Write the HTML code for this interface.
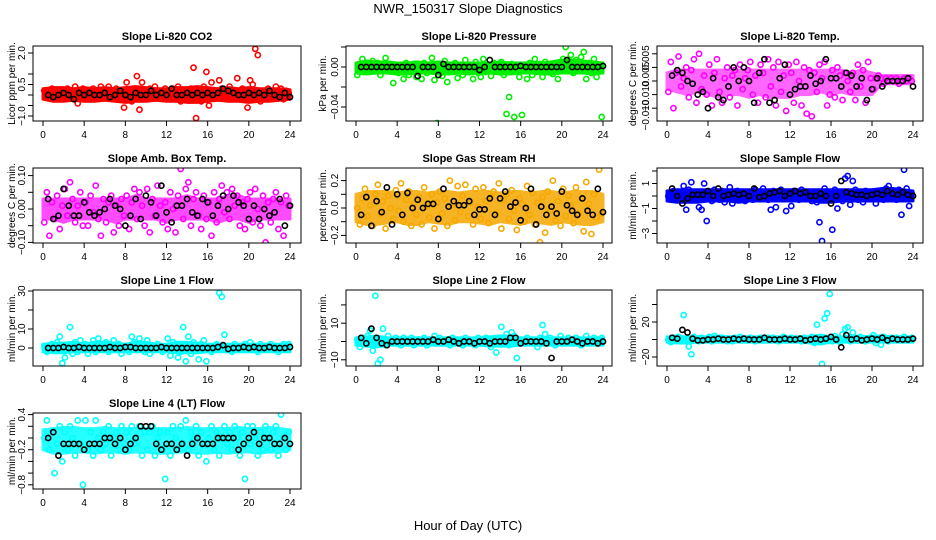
<!DOCTYPE html>
<html><head><meta charset="utf-8"><style>
body{margin:0;background:#fff}
svg{display:block;font-family:"Liberation Sans",Arial,sans-serif}
</style></head><body>
<svg id="chart" width="936" height="540" viewBox="0 0 936 540">
<text x="468" y="13" text-anchor="middle" font-size="13">NWR_150317  Slope Diagnostics</text>
<text x="468" y="530" text-anchor="middle" font-size="13">Hour of Day (UTC)</text>
</svg>
<script>
const hourTicks=[0,4,8,12,16,20,24];
const titles=["Slope Li-820 CO2","Slope Li-820 Pressure","Slope Li-820 Temp.","Slope Amb. Box Temp.","Slope Gas Stream RH","Slope Sample Flow","Slope Line 1 Flow","Slope Line 2 Flow","Slope Line 3 Flow","Slope Line 4 (LT) Flow"];
const yTitles=["Licor ppm per min.","kPa per min.","degrees C per min.","degrees C per min.","percent per min.","ml/min per min.","ml/min per min.","ml/min per min.","ml/min per min.","ml/min per min."];
const yTickVals=[[2,1,0.5,0,-0.5,-1],[0.02,0,-0.02,-0.04],[0.01,0.005,0,-0.005,-0.01],[0.1,0.05,0,-0.05,-0.1],[0.2,0.1,0,-0.1,-0.2],[2,1,0,-1,-2,-3],[30,20,10,0],[20,10,0,-10],[40,20,0,-20],[0.4,0.2,0,-0.2,-0.4,-0.6,-0.8]];
const yLabelVals=[[2,0.5,-1],[0,-0.04],[0.0085,0.0025,-0.0055,-0.0125],[0.1,0,-0.1],[0.2,0,-0.2],[1,-1,-3],[30,10,0],[10,-10],[20,-20],[0.4,-0.2,-0.8]];
const yLabelText=[["2.0","0.5","\u22121.0"],["0.00","\u22120.04"],["0.005","0.005","\u22120.010","\u22120.010"],["0.10","0.00","\u22120.10"],["0.2","0.0","\u22120.2"],["1","\u22121","\u22123"],["30","10","0"],["10","\u221210"],["20","\u221220"],["0.4","\u22120.2","\u22120.8"]];
// dense-band envelope of the colored series, hourly (0..24)
const bandLo=[
[-0.2,-0.3,-0.3,-0.25,-0.3,-0.3,-0.25,-0.3,-0.35,-0.3,-0.3,-0.25,-0.3,-0.3,-0.35,-0.35,-0.3,-0.25,-0.3,-0.3,-0.35,-0.3,-0.3,-0.25,-0.2],
[-0.006,-0.007,-0.006,-0.006,-0.007,-0.007,-0.006,-0.006,-0.007,-0.007,-0.006,-0.007,-0.006,-0.006,-0.007,-0.007,-0.006,-0.006,-0.007,-0.007,-0.006,-0.006,-0.006,-0.007,-0.006],
[-0.003,-0.004,-0.005,-0.004,-0.005,-0.006,-0.005,-0.005,-0.006,-0.005,-0.006,-0.006,-0.006,-0.005,-0.005,-0.004,-0.005,-0.004,-0.005,-0.005,-0.005,-0.001,-0.001,-0.001,-0.001],
[-0.03,-0.03,-0.04,-0.03,-0.03,-0.03,-0.03,-0.04,-0.03,-0.03,-0.03,-0.03,-0.04,-0.03,-0.03,-0.03,-0.03,-0.04,-0.03,-0.03,-0.04,-0.03,-0.03,-0.03,-0.03],
[-0.1,-0.12,-0.12,-0.11,-0.1,-0.12,-0.12,-0.1,-0.11,-0.12,-0.1,-0.1,-0.11,-0.12,-0.1,-0.11,-0.12,-0.1,-0.11,-0.12,-0.1,-0.11,-0.12,-0.12,-0.1],
[-0.4,-0.5,-0.5,-0.5,-0.4,-0.4,-0.4,-0.5,-0.4,-0.4,-0.4,-0.4,-0.4,-0.4,-0.4,-0.5,-0.5,-0.4,-0.4,-0.4,-0.4,-0.4,-0.4,-0.4,-0.4],
[-2,-2.5,-2.5,-2,-2,-2,-2,-2,-2,-2,-2,-2,-2,-2.5,-2.5,-2.5,-2,-2,-2,-2,-2,-2,-2,-2,-2],
[-2,-2.5,-3,-2,-2,-2,-2,-2,-2,-2,-2,-2,-2,-2.5,-2.5,-2.5,-2,-2,-2,-2,-2,-2,-2,-2,-2],
[-3,-4,-4,-3,-3,-3,-3,-3,-3,-3,-3,-3,-3,-3,-4,-5,-3,-3,-3,-3,-3,-3,-3,-3,-3],
[-0.2,-0.26,-0.26,-0.24,-0.24,-0.26,-0.24,-0.24,-0.26,-0.24,-0.24,-0.26,-0.26,-0.24,-0.24,-0.26,-0.26,-0.24,-0.26,-0.24,-0.24,-0.26,-0.24,-0.24,-0.2]
];
const bandHi=[
[0.3,0.35,0.35,0.3,0.35,0.3,0.35,0.3,0.35,0.4,0.35,0.3,0.3,0.35,0.35,0.4,0.35,0.3,0.35,0.3,0.35,0.3,0.3,0.3,0.25],
[0.004,0.006,0.005,0.005,0.004,0.004,0.005,0.004,0.005,0.004,0.004,0.004,0.004,0.004,0.005,0.004,0.004,0.004,0.004,0.005,0.007,0.007,0.006,0.005,0.004],
[0.003,0.004,0.004,0.004,0.004,0.004,0.004,0.004,0.004,0.004,0.004,0.004,0.004,0.004,0.004,0.004,0.004,0.004,0.003,0.004,0.003,0.002,0.002,0.002,0.002],
[0.03,0.03,0.03,0.03,0.03,0.03,0.03,0.03,0.03,0.04,0.03,0.03,0.03,0.03,0.04,0.03,0.03,0.03,0.04,0.04,0.03,0.03,0.03,0.03,0.03],
[0.1,0.12,0.12,0.12,0.11,0.12,0.12,0.11,0.12,0.12,0.11,0.12,0.12,0.12,0.11,0.12,0.12,0.11,0.12,0.12,0.11,0.12,0.12,0.12,0.1],
[0.4,0.5,0.5,0.5,0.5,0.5,0.5,0.5,0.5,0.5,0.5,0.5,0.5,0.5,0.5,0.5,0.5,0.5,0.5,0.5,0.5,0.6,0.6,0.5,0.4],
[2,2.5,2.5,3,2,3,3,2.5,2,3,3,2,2,3,3,2.5,2,2,2,2,2,2,2,2,2],
[2,2.5,3,2,2,2,2,2,2,2,2,2,2,2.5,3,3,2,2,2,2,2,2,2,2,2],
[3,3,3,3,3,4,3,3,3,3,3,3,3,3,3,5,3,3,4,3,4,4,3,3,3],
[0.14,0.16,0.18,0.18,0.16,0.16,0.18,0.16,0.16,0.16,0.16,0.16,0.16,0.16,0.18,0.16,0.16,0.16,0.16,0.18,0.16,0.16,0.18,0.16,0.14]
];
const colored=[
[0.2,-0.1,0.1,0.3,-0.2,0.0,0.2,-0.1,0.1,0.3,-0.1,0.2,0.4,-0.4,0.1,0.3,-0.1,0.2,0.0,0.3,-0.2,0.1,0.4,-0.1,0.2,0.4,-0.1,0.1,0.3,-0.2,0.0,-0.6,0.6,0.1,-0.3,0.3,0.9,-0.7,0.6,0.2,-0.2,0.3,0.1,0.4,-0.1,0.2,0.0,0.3,0.1,-0.2,0.3,0.0,0.4,-0.3,0.2,0.1,-0.2,0.3,1.3,-1.1,0.2,-0.3,0.4,1.1,-0.5,0.6,0.2,-0.1,0.7,0.3,0.0,0.2,0.4,-0.1,0.2,0.8,0.0,0.3,-0.2,-0.6,0.7,0.5,2.2,1.9,-0.3,0.2,0.1,0.3,-0.1,0.2,0.4,0.0,0.3,-0.2,0.2,0.1],
[-0.008,0.002,0.008,-0.004,0.004,-0.002,0.006,0.000,0.004,-0.008,0.002,0.009,-0.004,0.003,-0.016,0.001,-0.006,0.002,-0.012,0.004,-0.008,0.000,0.003,-0.010,0.002,-0.012,0.004,-0.006,0.001,0.009,-0.013,-0.056,0.003,-0.009,0.006,-0.015,0.001,-0.005,0.004,-0.011,0.000,-0.008,0.007,-0.004,0.002,-0.012,0.005,-0.006,-0.010,0.008,-0.005,0.002,-0.009,0.004,-0.003,0.001,0.005,-0.008,-0.047,-0.030,0.003,-0.050,0.002,-0.010,-0.048,0.001,-0.012,0.004,-0.008,0.008,-0.002,0.003,-0.010,0.005,-0.005,0.002,-0.007,0.004,-0.012,-0.003,0.008,0.020,0.004,0.012,-0.006,0.007,-0.002,0.010,0.015,-0.012,0.004,-0.006,0.008,-0.010,0.002,-0.050],
[-0.004,0.007,-0.010,0.003,0.009,-0.002,0.001,0.005,-0.006,0.004,0.008,-0.008,0.010,-0.003,0.002,-0.005,0.006,-0.009,0.003,0.008,-0.004,-0.008,0.001,0.005,-0.006,0.002,0.004,-0.009,0.006,-0.003,0.001,0.004,0.007,-0.005,0.002,-0.008,0.006,0.003,-0.006,0.008,-0.002,0.005,-0.009,0.007,-0.004,0.002,-0.011,0.006,0.003,-0.008,0.007,0.000,-0.009,0.005,-0.012,0.004,-0.013,0.003,-0.004,0.006,0.001,0.007,-0.009,-0.005,0.004,-0.006,0.005,0.002,-0.007,0.003,0.000,-0.004,0.003,-0.007,0.006,-0.002,0.004,-0.008,0.007,0.001,-0.003,0.001,0.002,0.001,-0.001,0.001,0.000,0.001,0.000,0.001,-0.001,0.000,0.001,0.000,0.001,0.000],
[-0.04,0.05,-0.08,0.02,-0.03,0.04,-0.06,0.01,0.06,-0.02,0.08,0.03,-0.04,0.01,0.05,-0.05,0.02,-0.05,0.04,-0.01,0.07,-0.03,-0.08,0.03,-0.04,0.02,0.04,-0.07,0.01,-0.05,0.03,-0.02,0.04,-0.06,0.02,0.06,-0.03,0.05,0.01,-0.05,0.06,-0.07,0.03,-0.02,0.07,0.01,-0.04,0.02,-0.06,0.05,0.00,-0.07,0.04,0.12,-0.03,0.06,0.08,-0.05,0.03,0.05,-0.02,-0.06,0.04,-0.03,0.02,-0.08,0.05,-0.04,0.03,0.07,-0.01,0.05,-0.03,0.06,0.01,0.04,-0.05,0.02,-0.06,0.03,0.05,-0.04,0.06,0.00,-0.05,0.04,-0.10,0.02,-0.04,0.03,0.05,-0.06,0.02,-0.08,0.04,0.01],
[0.0,-0.12,0.07,0.14,-0.06,0.02,-0.13,0.10,0.17,-0.04,0.05,-0.15,0.09,0.00,-0.08,0.13,-0.02,0.18,-0.10,0.06,0.12,-0.13,0.03,-0.05,0.08,-0.12,0.15,0.01,-0.07,0.10,-0.15,0.04,0.12,-0.04,0.07,-0.13,0.20,0.02,-0.09,0.16,-0.03,0.09,0.17,-0.06,0.04,-0.12,0.14,0.01,-0.08,0.15,0.05,-0.11,0.08,0.12,-0.04,0.18,-0.15,0.06,0.10,-0.08,0.13,-0.02,-0.16,0.07,0.03,-0.10,0.16,-0.05,0.11,-0.12,0.04,-0.25,0.08,-0.18,0.12,-0.02,0.20,-0.09,0.05,-0.13,0.14,-0.06,0.09,0.02,-0.11,0.15,-0.04,0.07,-0.17,0.19,0.03,-0.19,0.10,-0.07,0.28,-0.04],
[0.0,-0.3,0.4,0.1,-0.2,0.3,0.8,-1.1,0.5,1.1,-0.2,0.3,-0.9,-1.1,1.0,-2.0,0.3,-0.4,0.5,0.1,-0.3,0.4,-0.5,0.2,0.7,-0.6,0.2,0.4,-0.2,0.3,-0.4,0.1,0.3,-0.3,0.5,0.0,-0.2,0.6,0.1,-0.3,-1.1,0.4,-0.9,0.2,0.5,-0.2,-1.2,0.3,-0.8,0.4,0.0,-0.3,0.5,0.1,-0.2,0.3,-0.4,0.2,-0.5,-2.1,-3.6,0.6,0.2,-0.3,-2.7,0.5,-1.0,0.1,-0.4,1.4,1.6,-0.7,1.2,0.5,-0.3,0.2,-0.5,0.4,0.1,-0.2,0.3,-0.6,0.4,0.1,-0.3,0.6,0.8,-0.2,0.4,-0.3,0.5,-1.5,2.1,0.6,-0.8,0.2],
[1,-2,0,2,-1,3,6,-8,-5,1,11,-3,3,-2,4,-1,2,-3,0,4,-2,5,1,-1,3,-2,1,4,-1,2,-3,0,1,-2,6,3,-1,5,2,-2,4,-3,1,-1,2,0,-2,1,5,-4,3,0,-5,-2,11,-7,6,-3,3,-1,-6,2,4,-7,1,-2,0,2,29,27,7,-1,1,-2,2,-1,1,0,2,-1,3,-1,1,-2,2,0,-1,1,2,-1,1,-2,0,2,-1,2],
[1,-3,2,-1,3,6,-5,25,-12,-10,7,-2,3,1,-1,2,0,-2,2,1,-1,2,-2,0,1,-1,2,-2,1,0,3,-1,2,-1,0,1,-2,2,-1,1,0,-2,2,1,-1,0,-2,2,1,-1,2,0,-3,1,-6,2,8,1,4,-2,5,3,-9,1,0,-1,2,1,-1,0,-3,2,9,4,-1,2,0,-2,1,3,0,-1,2,1,-1,2,0,-2,1,3,-1,0,2,-1,1,2],
[0,-3,2,-1,3,1,28,-2,-8,-17,3,1,-2,2,0,-1,3,-2,4,1,-1,2,0,-2,1,-2,2,0,3,-1,1,-1,2,0,-2,1,2,-1,0,2,-1,2,0,-2,1,3,-1,0,2,-1,0,1,-2,2,0,1,3,-4,17,-3,-28,24,30,52,-2,4,1,-3,6,12,14,-2,8,2,-1,3,1,-2,0,2,5,-4,2,-6,3,1,-2,2,0,2,-1,1,3,0,-1,2],
[0.0,0.3,-0.2,0.1,-0.6,-0.1,0.2,-0.4,0.1,-0.2,0.2,0.0,-0.3,0.3,-0.1,-0.8,0.3,-0.2,0.1,-0.3,0.3,0.0,-0.2,0.1,-0.1,0.2,-0.3,0.0,0.1,-0.2,0.2,-0.1,0.1,-0.2,0.2,-0.1,0.0,0.2,-0.3,0.1,-0.2,0.1,0.2,-0.3,0.0,0.1,-0.2,-0.7,0.1,-0.3,0.2,0.0,-0.2,0.2,-0.1,0.3,-0.2,0.1,0.0,0.2,-0.3,0.1,-0.1,-0.4,0.0,0.2,-0.2,0.1,-0.3,0.0,0.2,-0.1,0.1,-0.2,0.2,0.0,-0.3,0.1,-0.7,0.2,-0.1,0.2,0.0,-0.3,0.1,-0.2,0.2,0.0,-0.2,0.1,0.2,-0.3,0.4,0.0,-0.2,0.1]
];
const black=[
[0.0,-0.1,0.0,0.1,0.0,-0.2,0.1,0.0,0.1,0.0,0.0,0.1,-0.1,0.0,0.2,0.0,-0.1,0.1,0.0,0.0,0.2,0.0,0.1,0.0,0.3,0.0,0.0,0.1,0.0,0.1,0.0,0.1,0.0,0.1,0.3,0.2,0.1,0.0,0.0,0.1,0.0,0.1,0.0,0.2,0.0,-0.1,0.1,-0.1],
[0,0,0,0,0,0,0,0,0,0,0,-0.009,0,0,0,-0.008,0.003,0,0,0,0,0,0,-0.003,0,0.007,0,0,0,0,0,0.001,0,0,0,0,0,0,0,0,0.007,0,0,0,0,0,0,0.001],
[0.002,0.004,0.003,0.000,-0.001,-0.005,-0.004,-0.010,0.001,-0.006,-0.007,-0.002,0.005,0.000,0.005,0.000,-0.008,0.003,0.008,-0.008,-0.007,0.001,0.006,-0.005,-0.003,-0.002,-0.002,0.002,-0.001,0.000,0.008,0.001,0.001,-0.002,0.003,0.002,-0.002,0.001,-0.007,-0.003,0.001,-0.002,0.000,0.000,0.000,0.000,0.001,-0.002],
[0.03,-0.03,-0.02,0.06,0.01,-0.02,-0.02,0.02,-0.01,-0.02,-0.01,0.00,0.03,0.01,0.00,-0.05,-0.02,0.03,-0.03,0.04,0.02,-0.02,0.07,-0.01,-0.04,0.01,0.01,0.03,-0.01,-0.02,0.03,0.02,-0.02,0.01,0.04,0.00,0.04,0.02,0.01,-0.03,0.01,-0.03,0.00,-0.02,-0.01,0.03,-0.05,0.01],
[-0.05,0.08,-0.13,0.05,-0.03,0.15,-0.12,0.10,-0.05,0.11,0.00,0.06,0.00,0.03,0.03,-0.08,0.14,0.01,0.05,0.02,0.02,0.05,-0.05,-0.01,-0.01,0.07,-0.05,0.07,0.12,0.01,0.04,-0.09,0.00,0.14,-0.12,0.01,-0.05,0.01,-0.04,0.12,0.02,-0.02,-0.05,0.07,-0.02,-0.05,0.14,-0.03],
[0.6,0.0,-0.6,-0.2,0.1,0.1,0.1,0.4,0.0,0.6,0.0,0.1,0.2,0.1,0.2,0.0,0.6,-0.1,0.0,0.2,0.3,0.4,0.0,0.2,0.4,0.2,0.3,0.0,0.0,0.2,0.0,-0.6,0.0,1.2,0.3,0.2,0.1,0.1,0.0,0.1,0.2,0.1,0.4,0.2,0.1,0.3,0.1,0.0],
[0,0,0,0.5,0,0,0.5,0,0,0,0,0,0.5,0,0,0.5,0.5,0,0,0,0,0,0.5,0,0,0,0,0,0,0,0,0,0,0.5,1.5,-0.5,0,0,0.5,0,0.5,0,0,0.5,0,0,0,0.5],
[2,-1,7,2,-1,-2,0,0,0,0,0,0,0,0,1,0,0,1,0,-1,0,0,-1,0,0,-1,0,0,0,2,2,-1,0,0,0,0,-1,-9,0,0,0,1,0,-1,0,0,-1,0],
[2,1,11,8,1,-1,-1,0,0,1,0,0,1,0,1,0,0,0,2,0,0,0,1,0,0,1,-1,0,1,0,1,3,0,-9,5,0,1,-1,0,1,0,2,-1,1,0,0,0,1],
[0.0,0.1,-0.3,-0.1,-0.1,-0.1,-0.1,-0.2,-0.1,-0.1,-0.1,0.0,0.0,-0.1,0.0,-0.2,-0.1,0.0,0.2,0.2,0.2,-0.1,-0.2,-0.1,-0.1,-0.2,-0.1,-0.3,-0.1,0.0,-0.1,-0.1,-0.1,0.0,0.0,0.0,0.0,-0.2,-0.1,0.0,0.1,-0.1,0.0,0.0,-0.1,-0.1,0.0,-0.1]
];
// layout & style (not data)
const cols=[{l:33,r:301,x0:43,x24:290,yl:11},{l:346,r:612,x0:356,x24:603,yl:322},{l:657,r:923,x0:667,x24:913,yl:632}];
const rows=[{t:46,b:121},{t:168,b:243},{t:290,b:366},{t:413,b:489}];
const yMap=[{z:95,k:21},{z:67,k:1000},{z:81,k:2720},{z:209,k:334},{z:208,k:137},{z:196,k:12.5},{z:348,k:1.9},{z:341.5,k:1.83},{z:339.5,k:0.875},{z:438,k:58.5}];
const colors=["#ff0000","#00ee00","#ff00ff","#ff00ff","#f5a800","#0000ff","#00ffff","#00ffff","#00ffff","#00ffff"];
const bandOpacity=[1,1,0.6,0.7,0.85,1,1,1,1,0.85];
const NS="http://www.w3.org/2000/svg";
const svg=document.getElementById('chart');
function mk(tag,attrs,parent){const e=document.createElementNS(NS,tag);for(const k in attrs)e.setAttribute(k,attrs[k]);parent.appendChild(e);return e;}
titles.forEach((title,p)=>{
  const c=cols[p%3], r=rows[Math.floor(p/3)], ym=yMap[p];
  const xs=h=>c.x0+(c.x24-c.x0)*h/24;
  const ys=v=>ym.z-ym.k*v;
  const g=mk('g',{},svg);
  
  
  const clip=mk('clipPath',{id:'clip'+p},g);
  mk('rect',{x:c.l,y:r.t,width:c.r-c.l,height:r.b-r.t},clip);
  const tt=mk('text',{x:(c.l+c.r)/2,y:r.t-6,'text-anchor':'middle','font-size':11,'font-weight':'bold'},g);
  tt.textContent=title;
  
  
  const yt=mk('text',{transform:`translate(${c.yl+4},${(r.t+r.b)/2}) rotate(-90)`,'text-anchor':'middle','font-size':10},g);
  yt.textContent=yTitles[p];
  
  
  const pts=mk('g',{'clip-path':`url(#clip${p})`,fill:'none'},g);
  
  
  let d='';
  bandHi[p].forEach((v,h)=>{d+=(h?'L':'M')+xs(h)+','+ys(v);});
  for(let h=bandLo[p].length-1;h>=0;h--){d+='L'+xs(h)+','+ys(bandLo[p][h]);}
  const band=mk('path',{d:d+'Z',fill:colors[p],stroke:colors[p],'stroke-width':3,'stroke-linejoin':'round',opacity:bandOpacity[p]},pts);
  
  
  colored[p].forEach((v,i)=>{
    const ci=mk('circle',{cx:xs(0.125+0.25*i),cy:ys(v),r:2.6,stroke:colors[p],'stroke-width':1.6},pts);
    
    
  });
  black[p].forEach((v,i)=>{
    const ci=mk('circle',{cx:xs(0.5+0.5*i),cy:ys(v),r:2.6,stroke:'#000','stroke-width':1.6},pts);
    
    
  });
  const box=mk('rect',{x:c.l,y:r.t,width:c.r-c.l,height:r.b-r.t,fill:'none',stroke:'#000','stroke-width':1},g);
  
  
  hourTicks.forEach(h=>{
    mk('line',{x1:xs(h),x2:xs(h),y1:r.b,y2:r.b+5,stroke:'#000'},g);
    const t=mk('text',{x:xs(h),y:r.b+17,'text-anchor':'middle','font-size':10},g);
    t.textContent=h;
    
    
  });
  yTickVals[p].forEach(v=>{ mk('line',{x1:c.l-5,x2:c.l,y1:ys(v),y2:ys(v),stroke:'#000'},g); });
  yLabelVals[p].forEach((v,i)=>{
    const t=mk('text',{transform:`translate(${c.l-8},${ys(v)}) rotate(-90)`,'text-anchor':'middle','font-size':10},g);
    t.textContent=yLabelText[p][i];
    
    
  });
});
</script>
</body></html>
